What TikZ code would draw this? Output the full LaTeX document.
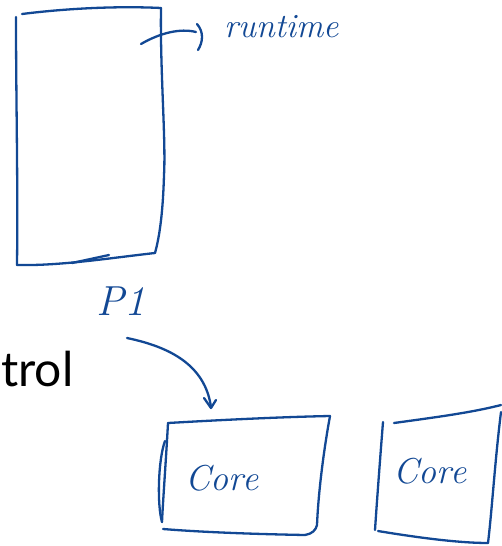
\documentclass[tikz,border=0pt]{standalone}
\usepackage{fontspec}
\newfontfamily\slidefont{Lato}
\definecolor{ink}{RGB}{18,72,148}
\begin{document}
\begin{tikzpicture}[x=1pt,y=-1pt,
  pen/.style={draw=ink,line width=2.3pt,line cap=round,line join=round},
  hand/.style={text=ink,font=\fontsize{36}{36}\selectfont\itshape,inner sep=0pt}]
\useasboundingbox (0,0) rectangle (501,546);
% tall runtime box
\draw[pen] (16,17) .. controls (16,100) and (18,180) .. (17,265);
\draw[pen] (22,14) .. controls (70,8) and (120,6) .. (161,8);
\draw[pen] (161,8) .. controls (160,70) and (166,140) .. (164,175) .. controls (163,210) and (160,235) .. (155,253);
\draw[pen] (155,253) .. controls (110,258) and (60,266) .. (17,265);
\draw[pen] (72,263) -- (109,255);
% runtime label and arrow
\node[hand,font=\fontsize{34}{34}\selectfont\itshape,anchor=west] (rt) at (224,27) {runtime};
\coordinate (rtstart) at (141,44);
\draw[pen] (rtstart) .. controls (160,33) and (180,28) .. (196,32);
\draw[pen] (197,24) .. controls (204,32) and (203,42) .. (198,50);
% P1
\node[hand,font=\fontsize{42}{42}\selectfont\itshape,anchor=center] (p1) at (121,301) {P1};
% Control text
\node[font=\fontsize{48}{48}\slidefont,anchor=base west,inner sep=0pt] (ctl) at (1,386) {trol};
% arrow P1 -> Core
\node[hand,anchor=center] (core1) at (222,478) {Core};
\coordinate (a1) at (127,338);
\coordinate (a2) at (211,407);
\draw[pen] (a1) .. controls (170,347) and (205,365) .. (a2);
\draw[pen] (204,398) -- (211,408) -- (216,400);
% core box 1
\draw[pen] (168,423) .. controls (220,420) and (280,417) .. (330,416);
\draw[pen] (330,416) .. controls (322,460) and (318,500) .. (317,525) .. controls (316,530) and (312,534) .. (305,535);
\draw[pen] (305,535) .. controls (250,534) and (200,532) .. (163,529);
\draw[pen] (168,423) .. controls (166,460) and (163,500) .. (162,522);
\draw[pen] (162,522) .. controls (157,505) and (158,460) .. (165,441);
% core box 2
\node[hand,anchor=center] (core2) at (430,471) {Core};
\draw[pen] (383,422) .. controls (380,460) and (377,500) .. (375,530);
\draw[pen] (394,423) .. controls (430,418) and (470,413) .. (501,405);
\draw[pen] (501,412) .. controls (495,460) and (492,510) .. (488,543);
\draw[pen] (378,531) .. controls (420,538) and (460,543) .. (488,543);
\end{tikzpicture}
\end{document}
